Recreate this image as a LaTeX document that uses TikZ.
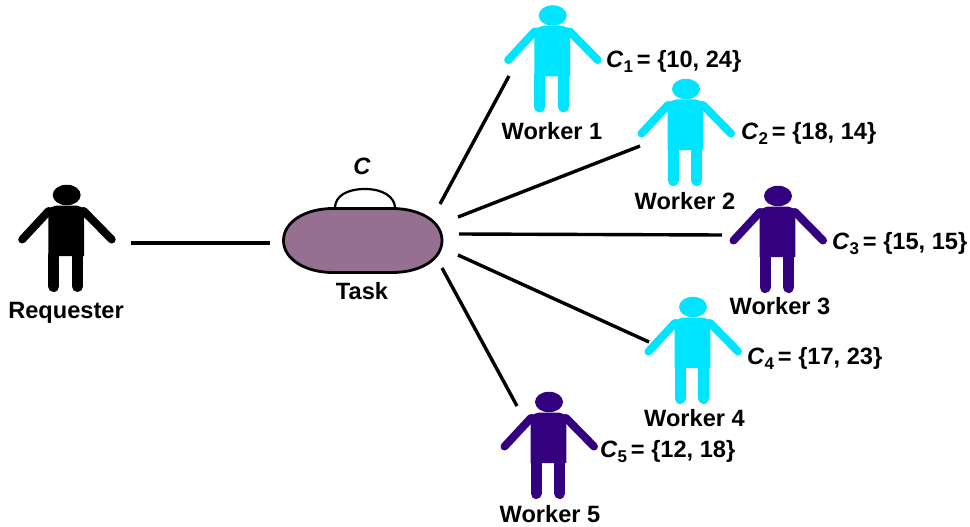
\documentclass[tikz,border=0pt]{standalone}
\usepackage{fontspec}
\setmainfont{Liberation Sans}
\usetikzlibrary{shapes.geometric}
\definecolor{cyanw}{HTML}{00E5FF}
\definecolor{purplew}{HTML}{330080}
\definecolor{taskfill}{HTML}{957090}
\newcommand{\lbl}[1]{\fontsize{23.6}{28}\selectfont\bfseries #1}
\newcommand{\cset}[2]{\lbl{\textit{C}\raisebox{-0.42ex}{\fontsize{17}{20}\selectfont #1}\hspace{4pt}= \{#2\}}}
\newcommand{\person}[4]{%
 \begin{scope}[shift={(#2,#3)}]
  \node[headshape,fill=#4] (#1) at (0,0) {};
  \fill[#4] (-18.4,61) -- (-18.4,17) -- (-21,14) -- (-10,10.5) -- (10,10.5) -- (20,14) -- (17.4,17) -- (17.4,61) -- cycle;
  \draw[armline,draw=#4] (-18,16) -- (-44.5,44.5);
  \draw[armline,draw=#4] (17,16) -- (45,44.5);
  \draw[legline,draw=#4] (-13,60) -- (-13,91.5);
  \draw[legline,draw=#4] (10.7,60) -- (10.7,91.5);
 \end{scope}}
\tikzset{
 x=1pt,y=-1pt,
 headshape/.style={ellipse,minimum width=28pt,minimum height=20.5pt,inner sep=0pt,draw=none},
 armline/.style={line width=8pt,line cap=round},
 legline/.style={line width=11pt,line cap=round},
 conn/.style={line width=3.4pt,black},
 name label/.style={inner sep=0pt,anchor=center},
 set label/.style={inner sep=0pt,anchor=west},
 taskshape/.style={draw=black,line width=2.8pt,fill=taskfill}
}
\begin{document}
\begin{tikzpicture}
\useasboundingbox (0,0) rectangle (970,527);
\fill[white] (0,0) rectangle (970,527);
\person{req}{66.7}{195}{black}
\person{wone}{552.7}{15.5}{cyanw}
\person{wtwo}{686}{89}{cyanw}
\person{wthree}{778}{196}{purplew}
\person{wfour}{693}{307}{cyanw}
\person{wfive}{549}{402}{purplew}
\draw[taskshape] (283.5,240.5) .. controls (283.5,222) and (305,208.5) .. (333,208.5) -- (392,208.5) .. controls (421,208.5) and (442,222) .. (442,240.5) .. controls (442,259) and (421,272.5) .. (392,272.5) -- (333,272.5) .. controls (305,272.5) and (283.5,259) .. (283.5,240.5) -- cycle;
\draw[line width=2.2pt,black] (335,208) .. controls (335,196) and (347,189) .. (365,189) .. controls (383,189) and (395,197) .. (395,208);
\node[name label] (lreq) at (66,312.5) {\lbl{Requester}};
\node[name label] (ltask) at (362,291) {\lbl{Task}};
\node[name label] (lc) at (362,166) {\lbl{\textit{C}}};
\node[name label] (lone) at (552,131) {\lbl{Worker 1}};
\node[name label] (ltwo) at (685,201) {\lbl{Worker 2}};
\node[name label] (lthree) at (780,306) {\lbl{Worker 3}};
\node[name label] (lfour) at (694.5,418) {\lbl{Worker 4}};
\node[name label] (lfive) at (550,514) {\lbl{Worker 5}};
\node[set label] (cone) at (606,61.5) {\cset{1}{10, 24}};
\node[set label] (ctwo) at (741,133.5) {\cset{2}{18, 14}};
\node[set label] (cthree) at (832,243.5) {\cset{3}{15, 15}};
\node[set label] (cfour) at (747,358.5) {\cset{4}{17, 23}};
\node[set label] (cfive) at (600,451.5) {\cset{5}{12, 18}};
\coordinate (a0) at (131,243); \coordinate (a1) at (270,243);
\coordinate (b0) at (440,204); \coordinate (b1) at (509,76);
\coordinate (c0) at (458,217); \coordinate (c1) at (640,146);
\coordinate (d0) at (459,234); \coordinate (d1) at (722,235);
\coordinate (e0) at (458,255); \coordinate (e1) at (649,342);
\coordinate (f0) at (442,268); \coordinate (f1) at (517,406);
\draw[conn] (a0) -- (a1);
\draw[conn] (b0) -- (b1);
\draw[conn] (c0) -- (c1);
\draw[conn] (d0) -- (d1);
\draw[conn] (e0) -- (e1);
\draw[conn] (f0) -- (f1);
\end{tikzpicture}
\end{document}
